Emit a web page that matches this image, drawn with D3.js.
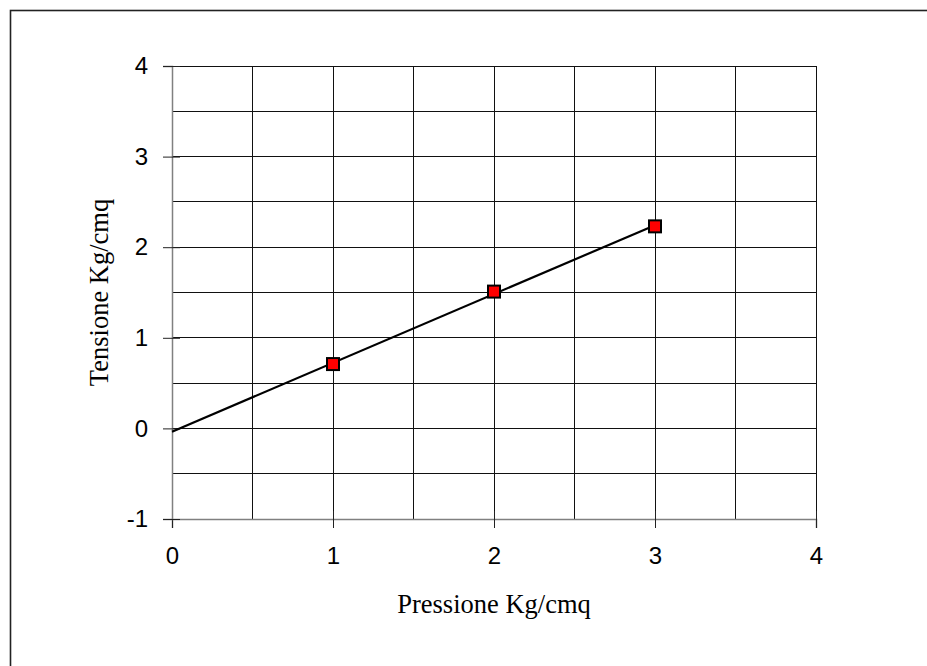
<!DOCTYPE html>
<html><head><meta charset="utf-8">
<script src="https://cdn.jsdelivr.net/npm/d3@7"></script>
<style>body{margin:0;background:#fff}svg{display:block}</style>
</head><body>
<svg id="c" width="927" height="666"></svg>
<script>
const pressione = [1, 2, 3];
const tensione = [0.71, 1.51, 2.23];
const xTicks = [0, 1, 2, 3, 4];
const yTicks = [-1, 0, 1, 2, 3, 4];
const gridStep = [0, 0.5, 1, 1.5, 2, 2.5, 3, 3.5, 4];
const yGrid = [-1, -0.5, 0, 0.5, 1, 1.5, 2, 2.5, 3, 3.5, 4];
const xTitle = "Pressione Kg/cmq";
const yTitle = "Tensione Kg/cmq";

const svg = d3.select("#c");
const x = d3.scaleLinear().domain([0, 4]).range([172, 816]);
const y = d3.scaleLinear().domain([-1, 4]).range([519, 66]);

svg.append("rect").attr("x", 10.5).attr("y", 10.5).attr("width", 1000).attr("height", 1000)
  .attr("fill", "none").attr("stroke", "#222").attr("stroke-width", 1.6);

// grid
svg.append("g").selectAll("line").data(gridStep.filter(d => d > 0)).join("line")
  .attr("x1", d => x(d)).attr("x2", d => x(d)).attr("y1", y(-1)).attr("y2", y(4))
  .attr("stroke", "#111").attr("stroke-width", 1).attr("shape-rendering", "crispEdges");
svg.append("g").selectAll("line").data(yGrid.filter(d => d > -1)).join("line")
  .attr("x1", x(0)).attr("x2", x(4)).attr("y1", d => y(d)).attr("y2", d => y(d))
  .attr("stroke", "#111").attr("stroke-width", 1).attr("shape-rendering", "crispEdges");

// axes
const fontTick = "'Liberation Sans', Arial, sans-serif";
const xAxis = svg.append("g").attr("transform", `translate(0,${y(-1)})`)
  .call(d3.axisBottom(x).tickValues(xTicks).tickSize(9).tickPadding(19).tickFormat(d3.format("d")));
const yAxis = svg.append("g").attr("transform", `translate(${x(0)},0)`)
  .call(d3.axisLeft(y).tickValues(yTicks).tickSize(9).tickPadding(15).tickFormat(d => d < 0 ? "-" + Math.abs(d) : d));
[xAxis, yAxis].forEach(a => {
  a.select(".domain").attr("stroke", "#808080").attr("stroke-width", 1.5);
  a.selectAll(".tick line").attr("stroke", "#222").attr("stroke-width", 1);
  a.selectAll("text").attr("font-family", fontTick).attr("font-size", 24).attr("fill", "#000");
});
xAxis.selectAll(".tick line").attr("y1", -8);
yAxis.selectAll(".tick line").attr("x1", 8).attr("x2", -9);

// trendline (linear regression)
const mx = d3.mean(pressione), my = d3.mean(tensione);
const slope = d3.sum(pressione, (d, i) => (d - mx) * (tensione[i] - my)) / d3.sum(pressione, d => (d - mx) ** 2);
const icpt = my - slope * mx;
const trendX = [0, d3.max(pressione)];
svg.append("path").datum(trendX)
  .attr("d", d3.line().x(d => x(d)).y(d => y(icpt + slope * d)))
  .attr("stroke", "#000").attr("stroke-width", 2.2).attr("fill", "none");

// markers
svg.append("g").selectAll("rect").data(pressione).join("rect")
  .attr("x", d => x(d) - 6).attr("y", (d, i) => y(tensione[i]) - 6)
  .attr("width", 12).attr("height", 12)
  .attr("fill", "#ff0000").attr("stroke", "#000").attr("stroke-width", 2);

// titles
svg.append("text").attr("x", (x(0) + x(4)) / 2).attr("y", 613).attr("text-anchor", "middle")
  .attr("font-family", "'Liberation Serif', 'Times New Roman', serif").attr("font-size", 26.5).text(xTitle);
svg.append("text").attr("transform", `translate(108,${(y(-1) + y(4)) / 2}) rotate(-90)`).attr("text-anchor", "middle")
  .attr("font-family", "'Liberation Serif', 'Times New Roman', serif").attr("font-size", 26.5).text(yTitle);
</script>
</body></html>
